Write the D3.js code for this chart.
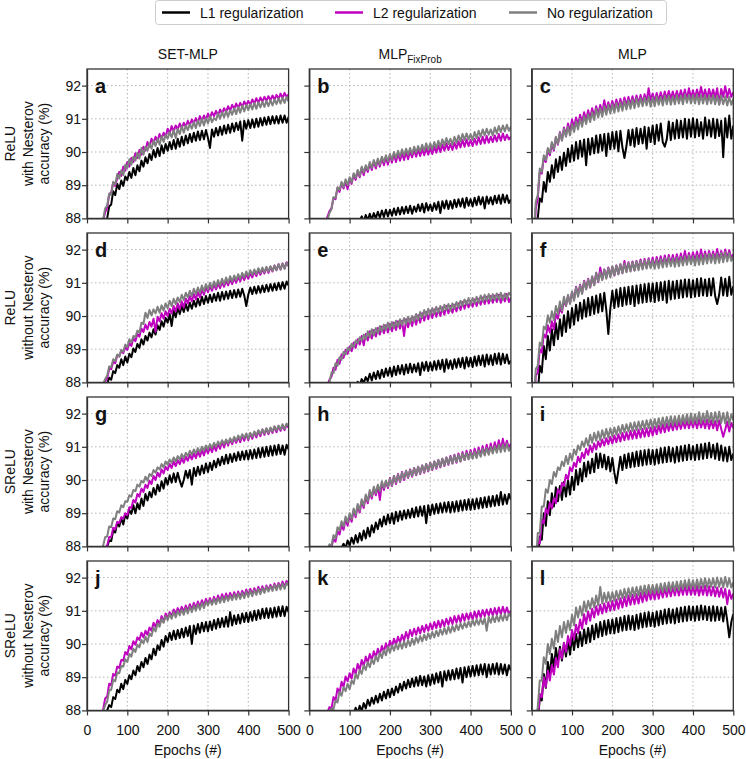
<!DOCTYPE html>
<html><head><meta charset="utf-8">
<script src="https://cdn.jsdelivr.net/npm/d3@7"></script>
<style>
body{margin:0;background:#fff}
svg{display:block}
text{font-family:"Liberation Sans",Arial,Helvetica,sans-serif;fill:#111}
</style></head>
<body><svg id="chart" width="746" height="759"></svg>
<script>
// ---------- data ----------
const epochs = d3.range(0, 501, 5);
const xTicks = [0, 100, 200, 300, 400, 500];
const yTicks = [88, 89, 90, 91, 92];
const seriesNames = ["L1 regularization", "L2 regularization", "No regularization"];
const seriesColors = ["#000000", "#bf00bf", "#7f7f7f"];
const colTitles = ["SET-MLP", "MLP", "MLP"];
const colSubs = ["", "FixProb", ""];
const rowLabels = [
  ["ReLU", "with Nesterov", "accuracy (%)"],
  ["ReLU", "without Nesterov", "accuracy (%)"],
  ["SReLU", "with Nesterov", "accuracy (%)"],
  ["SReLU", "without Nesterov", "accuracy (%)"]
];
const panelLetters = ["a","b","c","d","e","f","g","h","i","j","k","l"];

// a: SET-MLP, ReLU with Nesterov
const aL1 = [74.0,83.0,85.5,86.5,87.0,87.3,87.5,87.68,87.80,87.92,
 88.00,88.36,88.42,88.82,88.70,89.04,88.88,89.14,88.98,89.26,
 89.16,89.40,89.22,89.52,89.30,89.60,89.42,89.74,89.56,89.84,
 89.66,89.94,89.76,90.06,89.84,90.12,89.88,90.20,89.96,90.24,
 90.04,90.30,90.08,90.36,90.10,90.40,90.16,90.46,90.20,90.50,
 90.26,90.54,90.30,90.58,90.34,90.62,90.36,90.64,90.38,90.66,
 90.42,90.12,90.68,90.46,90.72,90.50,90.76,90.52,90.80,90.56,
 90.82,90.58,90.86,90.62,90.88,90.66,90.92,90.34,90.94,90.70,
 90.96,90.72,90.98,90.74,91.00,90.76,91.02,90.80,91.04,90.82,
 91.06,90.84,91.08,90.86,91.08,90.86,91.10,90.88,91.10,90.88,91.06];
const aL2 = [76.0,84.0,85.9,86.8,87.25,87.5,87.68,87.82,87.95,88.18,
 88.32,88.72,88.78,89.08,88.98,89.22,89.40,89.28,89.56,89.44,
 89.70,89.56,89.82,89.70,89.96,89.82,90.06,89.92,90.16,90.04,
 90.30,90.16,90.40,90.26,90.46,90.32,90.54,90.40,90.58,90.46,
 90.70,90.56,90.78,90.62,90.80,90.68,90.86,90.72,90.88,90.76,
 90.94,90.80,90.98,90.86,91.02,90.88,91.08,90.94,91.10,90.96,
 91.16,91.02,91.20,91.08,91.24,91.10,91.28,91.16,91.32,91.20,
 91.38,91.24,91.42,91.30,91.46,91.32,91.48,91.36,91.52,91.40,
 91.54,91.42,91.58,91.46,91.62,91.48,91.64,91.52,91.66,91.54,
 91.68,91.56,91.70,91.58,91.72,91.60,91.76,91.62,91.78,91.66,91.74];
const aNo = [78.0,84.5,86.1,86.9,87.3,87.55,87.7,87.85,87.98,88.30,
 88.38,88.75,88.70,89.10,89.02,89.34,89.20,89.45,89.30,89.62,
 89.52,89.78,89.62,89.86,89.74,89.98,89.80,90.12,89.92,90.16,
 90.04,90.26,90.10,90.34,90.18,90.40,90.22,90.48,90.30,90.52,
 90.40,90.60,90.44,90.66,90.42,90.70,90.54,90.78,90.58,90.80,
 90.66,90.84,90.70,90.90,90.72,90.96,90.78,91.00,90.80,91.02,
 90.86,91.08,90.90,91.02,90.96,91.16,91.00,91.20,91.04,91.24,
 91.06,91.26,91.12,91.32,91.14,91.36,91.18,91.40,91.22,91.42,
 91.26,91.44,91.28,91.48,91.30,91.50,91.34,91.52,91.36,91.54,
 91.38,91.56,91.40,91.58,91.44,91.62,91.46,91.64,91.48,91.66,91.52];
// b: MLP FixProb, ReLU with Nesterov
const bL1 = [50,60,68,74,78,81,83,84.5,85.5,86.2,
 86.7,87.0,87.2,87.35,87.5,87.6,87.68,87.74,87.80,87.84,
 87.86,87.90,87.92,87.94,87.96,87.92,88.06,87.90,88.10,87.94,
 88.14,87.96,88.16,88.00,88.20,88.02,88.24,88.04,88.26,88.06,
 88.26,88.08,88.30,88.10,88.32,88.12,88.34,88.14,88.36,88.16,
 88.38,88.14,88.36,88.20,88.42,88.22,88.44,88.18,88.46,88.24,
 88.42,88.22,88.46,88.26,88.50,88.16,88.52,88.30,88.54,88.28,
 88.52,88.30,88.56,88.34,88.58,88.36,88.60,88.32,88.62,88.38,
 88.58,88.36,88.62,88.40,88.66,88.42,88.64,88.30,88.66,88.44,
 88.64,88.42,88.68,88.46,88.70,88.44,88.72,88.48,88.70,88.46,88.58];
const bL2 = [70,80,83.6,85.3,86.3,86.9,87.3,87.6,87.85,88.05,
 88.22,88.30,88.62,88.58,88.92,88.80,89.06,88.90,89.12,88.88,
 89.20,89.04,89.32,89.16,89.42,89.24,89.52,89.30,89.56,89.40,
 89.64,89.46,89.72,89.50,89.76,89.56,89.82,89.60,89.84,89.62,
 89.90,89.68,89.94,89.70,89.96,89.74,89.98,89.76,90.00,89.78,
 90.02,89.84,90.06,89.86,90.08,89.88,90.10,89.90,90.12,89.92,
 90.12,89.94,90.16,89.98,90.20,90.00,90.22,90.04,90.26,90.06,
 90.24,90.06,90.28,90.10,90.32,90.14,90.36,90.16,90.38,90.18,
 90.36,90.18,90.40,90.22,90.44,90.24,90.46,90.26,90.48,90.28,
 90.46,90.30,90.50,90.32,90.54,90.34,90.56,90.36,90.52,90.38,90.46];
const bNo = [70,80,83.5,85.2,86.2,86.8,87.2,87.5,87.75,87.95,
 88.16,88.28,88.64,88.62,88.94,88.86,89.10,88.94,89.18,89.00,
 89.24,89.08,89.36,89.22,89.46,89.28,89.56,89.38,89.60,89.46,
 89.70,89.52,89.76,89.58,89.80,89.62,89.86,89.70,89.90,89.72,
 89.94,89.76,90.00,89.82,90.04,89.86,90.08,89.90,90.10,89.92,
 90.12,89.94,90.16,89.98,90.18,90.02,90.22,90.04,90.26,90.06,
 90.26,90.08,90.30,90.12,90.34,90.16,90.38,90.20,90.42,90.24,
 90.40,90.22,90.46,90.28,90.50,90.32,90.54,90.36,90.56,90.38,
 90.54,90.36,90.60,90.42,90.64,90.46,90.68,90.50,90.70,90.52,
 90.68,90.50,90.74,90.56,90.78,90.60,90.80,90.62,90.82,90.64,90.76];
// c: MLP, ReLU with Nesterov
const cL1 = [78,86.5,87.5,88.0,88.6,88.5,89.10,88.80,89.40,89.10,
 89.60,89.22,89.78,89.40,89.86,89.46,89.98,89.58,90.10,89.70,
 90.20,89.74,90.30,89.80,90.34,89.86,90.38,89.60,90.40,89.92,
 90.42,89.96,90.50,89.98,90.52,90.04,90.54,89.88,90.56,90.08,
 90.60,90.10,90.62,90.02,90.64,90.14,89.82,90.18,90.66,90.20,
 90.68,90.16,90.72,90.24,90.70,90.26,90.76,90.10,90.74,90.30,
 90.80,90.24,90.82,90.34,90.86,90.30,90.16,90.38,90.92,90.36,
 90.88,90.40,90.96,90.42,90.94,90.44,91.00,90.40,90.98,90.46,
 91.02,90.44,90.98,90.48,90.90,90.40,91.04,90.50,90.96,90.46,
 91.00,90.42,90.98,90.48,90.94,89.84,91.02,90.44,91.10,90.40,90.80];
const cL2 = [79,87.0,88.3,88.6,89.4,89.35,89.82,89.70,90.06,89.90,
 90.26,90.04,90.44,90.22,90.60,90.36,90.74,90.50,90.86,90.62,
 90.98,90.74,91.04,90.82,91.12,90.90,91.20,90.96,91.26,91.02,
 91.32,91.08,91.38,91.14,91.42,91.18,91.56,91.24,91.50,91.28,
 91.54,91.30,91.58,91.34,91.60,91.36,91.64,91.40,91.66,91.42,
 91.68,91.44,91.70,91.46,91.72,91.48,91.74,91.52,91.92,91.54,
 91.76,91.52,91.78,91.54,91.80,91.56,91.82,91.58,91.84,91.60,
 91.82,91.58,91.84,91.60,91.86,91.62,91.88,91.58,91.92,91.62,
 91.86,91.62,91.88,91.64,91.96,91.64,91.88,91.60,91.90,91.64,
 91.88,91.62,91.92,91.44,91.90,91.66,91.98,91.64,91.90,91.66,91.80];
const cNo = [80,87.4,88.5,88.7,89.5,89.40,89.90,89.76,90.12,89.96,
 90.30,90.08,90.46,90.24,90.58,90.34,90.70,90.46,90.76,90.50,
 90.84,90.60,90.92,90.68,91.00,90.76,91.08,90.84,91.14,90.90,
 91.20,90.96,91.30,91.04,91.32,91.06,91.38,91.12,91.42,91.16,
 91.44,91.18,91.48,91.22,91.50,91.24,91.54,91.28,91.56,91.30,
 91.58,91.32,91.62,91.36,91.62,91.38,91.64,91.40,91.66,91.36,
 91.64,91.38,91.68,91.42,91.66,91.40,91.70,91.44,91.70,91.42,
 91.68,91.44,91.72,91.46,91.70,91.44,91.74,91.48,91.72,91.46,
 91.72,91.46,91.74,91.44,91.72,91.46,91.72,91.44,91.70,91.46,
 91.72,91.44,91.70,91.42,91.70,91.44,91.68,91.40,91.66,91.42,91.60];
// d: SET-MLP, ReLU without Nesterov
const dL1 = [74,83,85.3,86.3,86.9,87.2,87.45,87.62,87.76,87.88,
 87.96,88.14,88.08,88.34,88.28,88.52,88.44,88.70,88.52,88.78,
 88.60,88.86,88.76,89.02,88.92,89.16,89.04,89.30,89.14,89.40,
 89.26,89.50,89.36,89.60,89.44,89.72,89.58,89.84,89.68,89.94,
 89.80,90.06,89.70,90.16,89.96,90.24,90.06,90.30,90.12,90.36,
 90.16,90.40,90.22,90.46,90.28,90.52,90.32,90.58,90.36,90.60,
 90.40,90.64,90.42,90.66,90.46,90.70,90.46,90.72,90.50,90.74,
 90.52,90.76,90.54,90.78,90.56,90.80,90.58,90.82,90.62,90.30,
 90.64,90.86,90.66,90.88,90.68,90.90,90.70,90.92,90.72,90.94,
 90.74,90.96,90.76,90.98,90.78,91.00,90.80,91.02,90.82,91.04,90.92];
const dL2 = [76,84.0,85.8,86.75,87.2,87.48,87.66,87.8,87.93,88.04,
 88.12,88.40,88.40,88.62,88.58,88.82,88.78,88.96,88.88,89.06,
 88.98,89.18,89.10,89.34,89.24,89.46,89.38,89.62,89.52,89.74,
 89.60,89.82,89.68,89.92,89.52,89.98,89.84,90.08,89.92,90.14,
 90.00,90.22,90.08,90.30,90.14,90.38,90.20,90.44,90.26,90.52,
 90.38,90.60,90.44,90.66,90.50,90.72,90.56,90.80,90.64,90.86,
 90.72,90.90,90.76,90.94,90.80,90.98,90.84,91.02,90.88,91.06,
 90.92,91.10,90.96,91.14,91.00,91.18,91.04,91.22,91.08,91.26,
 91.12,91.30,91.16,91.34,91.20,91.38,91.24,91.42,91.28,91.46,
 91.30,91.48,91.34,91.52,91.38,91.56,91.40,91.58,91.44,91.62,91.50];
const dNo = [77,84.2,85.9,86.8,87.25,87.5,87.68,87.82,87.95,88.10,
 88.20,88.48,88.46,88.70,88.64,88.84,88.78,88.98,88.92,89.14,
 89.06,89.30,89.20,89.40,89.36,89.56,89.50,89.80,89.76,90.10,
 89.94,90.18,90.02,90.20,90.08,90.28,90.10,90.32,90.16,90.38,
 90.24,90.46,90.30,90.52,90.36,90.56,90.42,90.64,90.48,90.70,
 90.56,90.76,90.60,90.82,90.66,90.86,90.70,90.92,90.74,90.96,
 90.80,91.00,90.84,91.04,90.88,91.08,90.92,91.12,90.96,91.16,
 91.00,91.20,91.04,91.22,91.08,91.26,91.12,91.30,91.16,91.34,
 91.20,91.38,91.24,91.40,91.26,91.44,91.30,91.46,91.32,91.48,
 91.34,91.50,91.36,91.52,91.38,91.56,91.40,91.58,91.42,91.60,91.52];
// e: MLP FixProb, ReLU without Nesterov
const eL1 = [50,60,68,74,78,81,83,84.5,85.5,86.2,
 86.7,87.0,87.2,87.35,87.48,87.58,87.66,87.72,87.78,87.84,
 87.88,87.86,87.96,87.90,88.02,87.92,88.10,87.98,88.16,88.04,
 88.26,88.06,88.30,88.10,88.34,88.12,88.38,88.16,88.42,88.20,
 88.44,88.18,88.48,88.22,88.50,88.26,88.52,88.24,88.54,88.28,
 88.56,88.30,88.54,88.32,88.58,88.22,88.60,88.36,88.62,88.34,
 88.60,88.36,88.64,88.38,88.66,88.40,88.68,88.32,88.70,88.42,
 88.66,88.40,88.70,88.44,88.72,88.46,88.74,88.42,88.76,88.48,
 88.74,88.46,88.78,88.50,88.80,88.52,88.82,88.48,88.84,88.54,
 88.82,88.52,88.86,88.56,88.88,88.54,88.86,88.58,88.84,88.56,88.66];
const eL2 = [70,80,83.4,85.1,86.1,86.7,87.15,87.46,87.72,87.92,
 88.08,88.18,88.44,88.38,88.68,88.56,88.84,88.74,88.98,88.86,
 89.08,88.94,89.20,89.04,89.30,89.14,89.40,89.12,89.46,89.26,
 89.54,89.32,89.58,89.38,89.64,89.44,89.68,89.48,89.72,89.50,
 89.76,89.54,89.80,89.58,89.84,89.62,89.86,89.40,89.90,89.66,
 89.92,89.70,89.96,89.74,90.02,89.80,90.08,89.86,90.12,89.90,
 90.16,89.94,90.20,89.98,90.22,90.00,90.26,90.04,90.30,90.08,
 90.30,90.10,90.34,90.14,90.38,90.18,90.42,90.22,90.44,90.26,
 90.46,90.28,90.50,90.30,90.52,90.34,90.56,90.36,90.58,90.38,
 90.60,90.40,90.62,90.42,90.64,90.40,90.62,90.44,90.66,90.42,90.56];
const eNo = [70,80,83.5,85.2,86.2,86.8,87.2,87.5,87.74,87.95,
 88.00,88.30,88.28,88.58,88.50,88.76,88.68,88.92,88.84,89.04,
 88.96,89.16,89.06,89.26,89.18,89.36,89.26,89.44,89.30,89.54,
 89.36,89.60,89.42,89.64,89.48,89.70,89.54,89.74,89.58,89.80,
 89.60,89.82,89.64,89.86,89.68,89.90,89.72,89.94,89.76,89.98,
 89.78,90.00,89.84,90.06,89.88,90.12,89.94,90.18,90.00,90.22,
 90.02,90.24,90.06,90.28,90.10,90.30,90.14,90.34,90.18,90.36,
 90.16,90.38,90.22,90.42,90.26,90.46,90.30,90.50,90.34,90.54,
 90.34,90.54,90.38,90.58,90.40,90.62,90.44,90.64,90.46,90.66,
 90.46,90.66,90.48,90.68,90.50,90.70,90.48,90.68,90.52,90.70,90.62];
// f: MLP, ReLU without Nesterov
const fL1 = [78,85.8,87.0,87.6,88.5,88.3,89.10,88.70,89.40,88.96,
 89.60,89.12,89.78,89.30,89.90,89.40,90.02,89.52,90.14,89.64,
 90.24,89.74,90.34,89.86,90.40,89.92,90.48,89.98,90.54,90.02,
 90.58,90.06,90.62,90.10,90.66,90.14,90.70,90.18,89.46,90.22,
 90.76,90.24,90.80,90.28,90.84,90.30,90.86,90.34,90.88,90.36,
 90.90,90.30,90.92,90.38,90.94,90.40,90.96,90.42,90.98,90.44,
 90.98,90.42,91.00,90.46,91.02,90.48,91.04,90.40,91.06,90.50,
 91.04,90.52,91.06,90.54,91.08,90.56,91.10,90.58,91.10,90.56,
 91.08,90.58,91.12,90.60,91.14,90.62,91.10,90.60,91.12,90.62,
 91.14,90.60,90.36,90.64,91.16,90.62,91.12,90.60,91.18,90.64,90.90];
const fL2 = [79,86.8,88.2,88.3,89.0,88.9,89.45,89.35,89.72,89.50,
 89.84,89.60,90.06,89.92,90.26,90.10,90.48,90.30,90.60,90.40,
 90.72,90.50,90.88,90.64,90.94,90.70,91.06,90.82,91.12,90.86,
 91.18,90.94,91.30,91.02,91.46,91.10,91.40,91.16,91.46,91.20,
 91.48,91.22,91.52,91.26,91.56,91.30,91.66,91.34,91.62,91.36,
 91.64,91.38,91.66,91.42,91.70,91.44,91.72,91.46,91.74,91.48,
 91.76,91.48,91.78,91.52,91.80,91.54,91.82,91.56,91.84,91.58,
 91.84,91.58,91.86,91.60,91.88,91.62,91.96,91.62,91.90,91.64,
 91.92,91.66,91.94,91.66,92.00,91.68,91.94,91.68,91.96,91.70,
 91.94,91.70,92.02,91.70,91.96,91.72,92.00,91.74,91.98,91.74,91.86];
const fNo = [80,87.2,88.4,88.5,89.2,89.1,89.68,89.60,90.02,89.80,
 90.14,89.88,90.30,90.06,90.44,90.16,90.58,90.30,90.64,90.36,
 90.74,90.46,90.86,90.58,90.92,90.66,91.04,90.80,91.10,90.86,
 91.20,90.92,91.30,91.04,91.32,91.08,91.40,91.12,91.44,91.16,
 91.50,91.22,91.52,91.26,91.56,91.28,91.58,91.32,91.60,91.34,
 91.62,91.36,91.64,91.38,91.66,91.40,91.68,91.42,91.70,91.44,
 91.68,91.42,91.70,91.44,91.72,91.46,91.74,91.48,91.76,91.50,
 91.74,91.48,91.76,91.50,91.78,91.52,91.80,91.54,91.82,91.56,
 91.80,91.52,91.82,91.54,91.84,91.56,91.86,91.58,91.88,91.60,
 91.86,91.58,91.88,91.60,91.90,91.62,91.92,91.64,91.90,91.66,91.80];
// g: SET-MLP, SReLU with Nesterov
const gL1 = [72,82,85,86.2,86.9,87.3,87.55,87.72,87.84,87.92,
 87.98,88.18,88.16,88.48,88.42,88.70,88.60,88.84,88.66,88.96,
 88.84,89.10,88.98,89.24,89.00,89.30,89.12,89.44,89.22,89.58,
 89.38,89.64,89.48,89.76,89.56,89.86,89.66,89.96,89.74,90.06,
 89.86,90.14,89.92,90.20,89.94,90.22,89.98,89.80,90.00,90.28,
 90.06,90.30,89.86,90.36,90.12,90.40,90.16,90.44,90.20,90.50,
 90.24,90.52,90.30,90.58,90.38,90.64,90.44,90.70,90.48,90.76,
 90.50,90.78,90.54,90.80,90.58,90.84,90.60,90.86,90.62,90.88,
 90.62,90.90,90.64,90.92,90.66,90.96,90.68,90.98,90.70,91.00,
 90.72,91.02,90.74,91.04,90.76,91.06,90.78,91.04,90.76,91.06,90.92];
const gL2 = [74,83,85.4,86.5,87.1,87.45,87.65,87.8,87.9,87.98,
 88.02,88.28,88.28,88.56,88.52,88.74,88.70,88.88,88.84,89.00,
 88.94,89.18,89.16,89.40,89.32,89.58,89.50,89.74,89.64,89.86,
 89.76,89.98,89.88,90.12,90.00,90.22,90.10,90.32,90.20,90.40,
 90.30,90.48,90.36,90.56,90.42,90.60,90.48,90.66,90.52,90.70,
 90.58,90.76,90.62,90.80,90.66,90.86,90.70,90.90,90.74,90.96,
 90.80,91.00,90.84,91.04,90.88,91.10,90.94,91.16,90.98,91.20,
 91.04,91.22,91.08,91.26,91.12,91.30,91.14,91.34,91.18,91.38,
 91.20,91.40,91.24,91.44,91.28,91.48,91.32,91.52,91.36,91.54,
 91.38,91.56,91.42,91.60,91.44,91.62,91.48,91.64,91.50,91.66,91.58];
const gNo = [76,84,85.8,86.8,87.3,87.6,87.8,87.92,88.02,88.28,
 88.30,88.60,88.58,88.84,88.82,89.06,89.02,89.24,89.18,89.36,
 89.34,89.54,89.50,89.70,89.66,89.86,89.80,89.98,89.92,90.10,
 89.98,90.18,90.12,90.30,90.22,90.38,90.32,90.48,90.38,90.56,
 90.46,90.62,90.52,90.68,90.56,90.72,90.62,90.78,90.66,90.82,
 90.72,90.88,90.76,90.92,90.80,90.96,90.84,91.00,90.88,91.04,
 90.92,91.08,90.96,91.12,91.00,91.16,91.04,91.20,91.08,91.22,
 91.10,91.26,91.14,91.30,91.18,91.34,91.22,91.38,91.26,91.40,
 91.24,91.42,91.30,91.46,91.34,91.50,91.38,91.52,91.40,91.56,
 91.42,91.58,91.46,91.62,91.50,91.64,91.52,91.68,91.54,91.70,91.62];
// h: MLP FixProb, SReLU with Nesterov
const hL1 = [55,65,72,77,80.5,83,84.6,85.7,86.4,86.9,
 87.2,87.45,87.62,87.76,87.86,87.94,87.96,88.08,87.94,88.18,
 88.02,88.26,88.08,88.34,88.12,88.40,88.18,88.48,88.24,88.56,
 88.30,88.64,88.42,88.72,88.52,88.82,88.60,88.90,88.66,88.96,
 88.70,89.00,88.68,89.04,88.76,89.06,88.80,89.08,88.84,89.10,
 88.86,89.14,88.88,89.18,88.90,89.20,88.92,89.22,88.70,89.24,
 88.94,89.26,88.98,89.28,89.00,89.30,89.02,89.32,89.04,89.34,
 89.02,89.34,89.04,89.36,89.06,89.38,89.08,89.40,89.10,89.42,
 89.10,89.42,89.12,89.44,89.14,89.46,89.16,89.48,89.18,89.50,
 89.20,89.52,89.22,89.54,89.24,89.64,89.26,89.56,89.28,89.58,89.40];
const hL2 = [66,78,82.5,84.6,85.8,86.6,87.1,87.45,87.70,87.86,
 87.96,87.98,88.22,88.14,88.46,88.36,88.66,88.50,88.82,88.62,
 88.94,88.74,89.08,88.88,89.22,89.02,89.36,89.16,89.50,89.30,
 89.64,89.44,89.74,89.54,89.82,89.40,89.92,89.70,89.96,89.76,
 90.06,89.82,90.12,89.88,90.18,89.94,90.24,90.00,90.28,90.06,
 90.32,90.10,90.36,90.14,90.40,90.18,90.44,90.22,90.48,90.26,
 90.52,90.30,90.56,90.34,90.60,90.38,90.64,90.42,90.68,90.46,
 90.72,90.50,90.76,90.52,90.80,90.56,90.84,90.60,90.88,90.64,
 90.90,90.66,90.94,90.70,90.98,90.74,91.02,90.76,91.06,90.80,
 91.10,90.84,91.14,90.88,91.20,90.90,91.24,90.94,91.18,90.96,91.10];
const hNo = [68,79,83,85,86.1,86.8,87.25,87.55,87.78,87.92,
 88.06,88.02,88.34,88.24,88.58,88.48,88.76,88.60,88.90,88.72,
 89.00,88.82,89.14,88.94,89.28,89.08,89.42,89.22,89.56,89.36,
 89.70,89.50,89.80,89.60,89.86,89.66,89.96,89.76,89.98,89.80,
 90.04,89.84,90.12,89.92,90.16,89.96,90.22,90.04,90.28,90.08,
 90.30,90.12,90.36,90.16,90.40,90.20,90.44,90.24,90.48,90.28,
 90.52,90.32,90.56,90.36,90.60,90.40,90.64,90.44,90.68,90.48,
 90.70,90.50,90.74,90.54,90.76,90.56,90.80,90.60,90.82,90.62,
 90.84,90.64,90.86,90.66,90.90,90.70,90.94,90.74,90.96,90.76,
 91.00,90.80,91.02,90.82,91.06,90.84,91.08,90.86,91.10,90.88,91.00];
// i: MLP, SReLU with Nesterov
const iL1 = [76,85.3,86.6,87.4,88.3,88.2,89.00,88.62,89.36,88.94,
 89.60,89.20,89.78,89.36,89.82,89.40,89.94,89.50,90.00,89.56,
 90.10,89.70,90.30,89.86,90.34,89.96,90.52,90.10,90.56,90.20,
 90.64,90.24,90.80,90.36,90.80,90.38,90.76,90.32,90.70,90.26,
 90.66,90.22,89.90,90.30,90.70,90.30,90.76,90.36,90.80,90.38,
 90.82,90.40,90.86,90.42,90.88,90.44,90.90,90.46,90.92,90.48,
 90.90,90.46,90.92,90.50,90.96,90.52,90.98,90.54,91.00,90.56,
 90.96,90.52,91.00,90.56,91.02,90.58,91.04,90.60,91.06,90.62,
 91.02,90.60,91.06,90.62,91.08,90.64,91.10,90.66,91.12,90.68,
 91.06,90.64,91.10,90.60,91.04,90.58,90.98,90.56,91.00,90.60,90.80];
const iL2 = [77,85.8,87.0,88.1,88.1,88.8,88.70,89.14,88.98,89.32,
 89.14,89.46,89.30,89.72,89.58,89.92,89.82,90.16,90.02,90.38,
 90.26,90.52,90.40,90.70,90.54,90.82,90.66,90.94,90.76,91.04,
 90.84,91.10,90.92,91.16,91.00,91.22,91.04,91.26,91.08,91.30,
 91.10,91.34,91.14,91.38,91.16,91.42,91.20,91.44,91.22,91.48,
 91.24,91.50,91.26,91.52,91.28,91.54,91.30,91.56,91.32,91.58,
 91.34,91.60,91.38,91.64,91.42,91.68,91.44,91.70,91.48,91.72,
 91.50,91.74,91.52,91.76,91.54,91.78,91.56,91.80,91.56,91.80,
 91.58,91.80,91.56,91.82,91.58,91.80,91.56,91.82,91.54,91.80,
 91.56,91.78,91.50,91.80,91.54,91.30,91.52,91.76,91.46,91.72,91.56];
const iNo = [78,86.6,87.4,88.4,88.4,89.2,89.20,89.72,89.62,90.00,
 89.88,90.24,90.10,90.38,90.30,90.56,90.42,90.72,90.48,90.80,
 90.60,90.92,90.76,91.04,90.90,91.16,91.00,91.26,91.04,91.36,
 91.12,91.42,91.18,91.46,91.20,91.50,91.26,91.54,91.28,91.56,
 91.32,91.58,91.36,91.62,91.40,91.66,91.44,91.68,91.46,91.72,
 91.48,91.74,91.50,91.76,91.52,91.78,91.54,91.80,91.56,91.82,
 91.56,91.84,91.58,91.86,91.60,91.88,91.62,91.90,91.64,91.92,
 91.64,91.92,91.66,91.94,91.68,91.96,91.70,91.98,91.70,92.00,
 91.70,91.98,91.72,92.04,91.72,92.00,91.74,92.08,91.74,92.02,
 91.72,92.04,91.74,92.06,91.72,92.02,91.70,92.04,91.68,91.98,91.80];
// j: SET-MLP, SReLU without Nesterov
const jL1 = [73,82.5,85,86.2,86.9,87.3,87.55,87.72,87.84,87.94,
 88.00,88.16,88.10,88.40,88.34,88.62,88.54,88.80,88.64,88.92,
 88.80,89.06,88.94,89.20,89.06,89.34,89.18,89.46,89.30,89.58,
 89.40,89.68,89.54,89.86,89.66,89.96,89.82,90.12,89.92,90.24,
 90.06,90.34,90.12,90.40,90.14,90.42,90.18,90.46,90.20,90.50,
 90.24,90.54,90.00,90.56,90.30,90.60,90.34,90.64,90.38,90.66,
 90.38,90.68,90.42,90.72,90.46,90.76,90.50,90.78,90.52,90.82,
 90.52,90.96,90.56,90.86,90.60,90.88,90.62,90.92,90.66,90.94,
 90.66,90.96,90.70,91.00,90.72,91.02,90.76,91.06,90.78,91.08,
 90.78,91.08,90.80,91.10,90.82,91.12,90.84,91.14,90.84,91.12,90.96];
const jL2 = [77,84.5,86.2,87.0,87.4,87.65,87.82,87.92,88.02,88.36,
 88.42,88.80,88.76,89.10,89.04,89.32,89.28,89.52,89.50,89.76,
 89.68,89.94,89.84,90.08,89.98,90.20,90.12,90.34,90.20,90.40,
 90.28,90.50,90.40,90.64,90.52,90.72,90.60,90.84,90.66,90.92,
 90.76,90.96,90.84,91.04,90.90,91.08,90.96,91.12,90.98,91.16,
 91.00,91.20,91.04,91.24,91.08,91.28,91.12,91.32,91.16,91.36,
 91.20,91.38,91.22,91.42,91.26,91.46,91.30,91.50,91.34,91.52,
 91.36,91.54,91.38,91.56,91.40,91.58,91.42,91.60,91.46,91.64,
 91.48,91.66,91.50,91.68,91.52,91.72,91.56,91.74,91.58,91.76,
 91.62,91.78,91.64,91.82,91.66,91.84,91.70,91.88,91.72,91.90,91.80];
const jNo = [76,84,85.9,86.8,87.3,87.58,87.76,87.88,87.98,88.16,
 88.26,88.60,88.62,88.92,88.88,89.14,89.12,89.34,89.32,89.54,
 89.46,89.70,89.62,89.86,89.76,89.98,89.90,90.12,90.02,90.22,
 90.06,90.32,90.24,90.50,90.38,90.62,90.52,90.76,90.64,90.84,
 90.72,90.90,90.76,90.96,90.80,91.00,90.86,91.04,90.88,91.08,
 90.92,91.12,90.96,91.16,91.00,91.20,91.04,91.24,91.08,91.28,
 91.16,91.32,91.18,91.36,91.20,91.38,91.24,91.42,91.26,91.44,
 91.30,91.46,91.32,91.50,91.34,91.52,91.36,91.54,91.38,91.58,
 91.42,91.60,91.44,91.62,91.48,91.66,91.50,91.68,91.54,91.72,
 91.58,91.74,91.60,91.78,91.62,91.80,91.64,91.82,91.66,91.84,91.76];
// k: MLP FixProb, SReLU without Nesterov
const kL1 = [50,60,68,74,78,81,83,84.5,85.5,86.2,
 86.7,87.0,87.2,87.35,87.48,87.58,87.66,87.74,87.80,87.86,
 87.90,87.94,87.90,88.08,87.92,88.14,87.98,88.22,88.06,88.32,
 88.14,88.38,88.20,88.44,88.24,88.50,88.30,88.56,88.36,88.62,
 88.40,88.66,88.46,88.72,88.54,88.80,88.60,88.86,88.66,88.92,
 88.70,88.96,88.72,89.00,88.74,89.04,88.76,89.02,88.72,89.06,
 88.76,89.08,88.80,89.12,88.84,89.16,88.72,89.18,88.90,89.20,
 88.92,89.22,88.94,89.26,88.96,89.28,88.84,89.30,89.00,89.32,
 89.02,89.34,89.04,89.36,89.06,89.38,89.08,89.40,89.00,89.38,
 89.08,89.40,89.10,89.42,89.08,89.40,89.10,89.38,89.06,89.36,89.20];
const kL2 = [68,79,83,85,86.1,86.8,87.25,87.55,87.78,87.94,
 88.10,88.06,88.40,88.30,88.66,88.52,88.86,88.72,89.02,88.88,
 89.12,88.96,89.26,89.10,89.40,89.22,89.52,89.34,89.62,89.44,
 89.70,89.52,89.78,89.60,89.86,89.68,89.94,89.76,90.02,89.84,
 90.10,89.92,90.16,89.98,90.22,90.04,90.28,90.10,90.36,90.16,
 90.42,90.24,90.46,90.28,90.50,90.32,90.54,90.36,90.58,90.40,
 90.62,90.44,90.66,90.48,90.70,90.50,90.72,90.54,90.76,90.58,
 90.80,90.60,90.84,90.64,90.86,90.66,90.90,90.70,90.92,90.74,
 90.94,90.74,90.98,90.78,91.00,90.80,91.02,90.84,91.04,90.86,
 91.06,90.86,91.08,90.88,91.10,90.90,91.12,90.92,91.10,90.90,91.00];
const kNo = [66,78,82.5,84.6,85.8,86.6,87.1,87.45,87.70,87.86,
 87.96,88.06,88.04,88.30,88.24,88.56,88.44,88.70,88.58,88.80,
 88.64,88.90,88.80,89.10,88.96,89.22,89.10,89.36,89.22,89.46,
 89.30,89.54,89.40,89.64,89.48,89.74,89.58,89.82,89.66,89.92,
 89.74,89.96,89.80,90.00,89.84,90.04,89.86,90.08,89.90,90.12,
 89.94,90.16,89.98,90.20,90.04,90.24,90.08,90.28,90.12,90.32,
 90.16,90.36,90.20,90.40,90.24,90.44,90.28,90.48,90.30,90.52,
 90.34,90.54,90.38,90.58,90.42,90.62,90.46,90.64,90.50,90.68,
 90.52,90.72,90.56,90.74,90.58,90.76,90.60,90.78,90.40,90.82,
 90.64,90.84,90.66,90.86,90.68,90.88,90.70,90.90,90.72,90.92,90.82];
// l: MLP, SReLU without Nesterov
const lL1 = [76,85.3,86.8,87.5,88.4,88.3,89.10,88.68,89.46,89.04,
 89.70,89.28,89.88,89.46,89.92,89.50,90.02,89.62,90.10,89.68,
 90.22,89.82,90.30,89.90,90.36,89.94,90.44,90.02,90.48,90.06,
 90.56,90.14,90.60,90.20,90.66,90.24,90.70,90.28,90.72,90.32,
 90.74,90.32,90.78,90.36,90.80,90.40,90.84,90.42,90.86,90.44,
 90.84,90.42,90.88,90.46,90.92,90.50,90.94,90.52,90.96,90.54,
 90.94,90.52,90.98,90.56,91.00,90.60,91.04,90.62,91.06,90.64,
 91.04,90.62,91.08,90.66,91.10,90.68,91.12,90.70,91.14,90.72,
 91.12,90.70,91.14,90.72,91.16,90.74,91.14,90.72,91.12,90.70,
 91.14,90.70,91.12,90.72,91.10,90.68,91.12,90.70,90.20,90.66,90.90];
const lL2 = [77,85.6,87.2,87.6,88.5,88.4,89.00,88.70,89.20,88.90,
 89.36,89.08,89.58,89.30,89.84,89.56,90.04,89.76,90.24,89.96,
 90.42,90.14,90.58,90.32,90.74,90.46,90.90,90.60,90.98,90.70,
 91.06,90.80,91.14,90.88,91.18,90.92,91.22,90.96,91.26,91.00,
 91.30,91.02,91.34,91.06,91.38,91.10,91.42,91.14,91.46,91.18,
 91.48,91.20,91.50,91.22,91.54,91.26,91.56,91.30,91.60,91.34,
 91.62,91.34,91.64,91.36,91.66,91.40,91.68,91.42,91.70,91.44,
 91.72,91.46,91.74,91.46,91.74,91.48,91.76,91.48,91.76,91.48,
 91.74,91.48,91.76,91.46,91.74,91.48,91.76,91.46,91.74,91.46,
 91.72,91.44,91.70,91.42,91.68,91.40,91.66,91.20,91.62,91.36,91.52];
const lNo = [78,86.2,87.7,88.1,88.9,88.9,89.60,89.40,90.00,89.70,
 90.16,89.86,90.40,90.06,90.54,90.20,90.66,90.34,90.70,90.42,
 90.88,90.56,91.10,90.80,91.14,90.86,91.28,90.98,91.30,91.06,
 91.38,91.10,91.46,91.16,91.72,91.22,91.54,91.26,91.56,91.28,
 91.56,91.30,91.60,91.34,91.62,91.38,91.66,91.40,91.68,91.42,
 91.70,91.44,91.72,91.46,91.74,91.48,91.76,91.50,91.78,91.52,
 91.78,91.52,91.80,91.54,91.82,91.56,91.84,91.58,91.86,91.60,
 91.86,91.60,91.88,91.62,91.90,91.64,91.92,91.66,91.94,91.66,
 91.92,91.66,91.94,91.68,91.96,91.70,91.98,91.70,91.96,91.72,
 91.98,91.70,92.00,91.72,91.98,91.70,92.02,91.72,91.98,91.70,91.86];

const panelSeries = [
  [aL1, aL2, aNo], [bL1, bL2, bNo], [cL1, cL2, cNo],
  [dL1, dL2, dNo], [eL1, eL2, eNo], [fL1, fL2, fNo],
  [gL1, gL2, gNo], [hL1, hL2, hNo], [iL1, iL2, iNo],
  [jL1, jL2, jNo], [kL1, kL2, kNo], [lL1, lL2, lNo]
];

// ---------- layout ----------
const colX = [87, 309.3, 531.7];
const rowY = [69, 233, 397, 561];
const pw = 201.6, ph = 149.4;
const FONT = 14;

const svg = d3.select("#chart");
const x = d3.scaleLinear().domain([0, 500]).range([0, pw]);
const y = d3.scaleLinear().domain([88, 92.5]).range([ph, 0]);
const line = d3.line().x((d, i) => x(epochs[i])).y(d => y(d));

// legend
const leg = svg.append("g");
leg.append("rect").attr("x", 155.5).attr("y", 0.5).attr("width", 511).attr("height", 24)
  .attr("rx", 3).attr("fill", "#fff").attr("stroke", "#cccccc").attr("stroke-width", 1);
const legX = [162, 335, 509];
seriesNames.forEach((name, i) => {
  leg.append("line").attr("x1", legX[i]).attr("x2", legX[i] + 28).attr("y1", 12.5).attr("y2", 12.5)
    .attr("stroke", seriesColors[i]).attr("stroke-width", 2.5);
  leg.append("text").attr("x", legX[i] + 38).attr("y", 17.5).attr("font-size", FONT).text(name);
});

// column titles
colTitles.forEach((t, c) => {
  const tx = svg.append("text").attr("x", colX[c] + pw / 2).attr("y", 59)
    .attr("text-anchor", "middle").attr("font-size", FONT);
  tx.append("tspan").text(t);
  if (colSubs[c]) tx.append("tspan").attr("font-size", 10).attr("dy", 4).text(colSubs[c]);
});

// row labels
rowLabels.forEach((lines, r) => {
  const cy = rowY[r] + ph / 2;
  const lx = [15, 32.5, 48.5];
  lines.forEach((t, k) => {
    svg.append("text").attr("transform", `translate(${lx[k]},${cy}) rotate(-90)`)
      .attr("text-anchor", "middle").attr("font-size", FONT).text(t);
  });
});

// panels
panelSeries.forEach((series, p) => {
  const r = Math.floor(p / 3), c = p % 3;
  const g = svg.append("g").attr("transform", `translate(${colX[c]},${rowY[r]})`);
  const cid = "clip" + p;
  g.append("clipPath").attr("id", cid).append("rect").attr("width", pw).attr("height", ph);

  // grid
  g.append("g").selectAll("line").data(xTicks.slice(1, -1)).join("line")
    .attr("x1", d => x(d)).attr("x2", d => x(d)).attr("y1", 0).attr("y2", ph)
    .attr("stroke", "#b5b5b5").attr("stroke-width", 1).attr("stroke-dasharray", "1.5,2.5");
  g.append("g").selectAll("line").data(yTicks.slice(1)).join("line")
    .attr("x1", 0).attr("x2", pw).attr("y1", d => y(d)).attr("y2", d => y(d))
    .attr("stroke", "#b5b5b5").attr("stroke-width", 1).attr("stroke-dasharray", "1.5,2.5");

  // series
  const lg = g.append("g").attr("clip-path", `url(#${cid})`);
  series.forEach((vals, i) => {
    lg.append("path").datum(vals).attr("d", line).attr("fill", "none")
      .attr("stroke", seriesColors[i]).attr("stroke-width", 2).attr("stroke-linejoin", "round");
  });

  // border
  g.append("rect").attr("width", pw).attr("height", ph).attr("fill", "none")
    .attr("stroke", "#333").attr("stroke-width", 1.3);

  // axes
  const ya = d3.axisLeft(y).tickValues(yTicks).tickSize(5).tickSizeOuter(0).tickPadding(1)
    .tickFormat(c === 0 ? d3.format("d") : () => "");
  const yg = g.append("g").call(ya);
  const xa = d3.axisBottom(x).tickValues(xTicks).tickSize(5).tickSizeOuter(0)
    .tickFormat(r === 3 ? d3.format("d") : () => "");
  const xg = g.append("g").attr("transform", `translate(0,${ph})`).call(xa);
  [yg, xg].forEach(ax => {
    ax.select(".domain").attr("stroke", "#333").attr("stroke-width", 1.3);
    ax.selectAll(".tick line").attr("stroke", "#333").attr("stroke-width", 1.2);
    ax.selectAll(".tick text").attr("font-size", FONT).attr("fill", "#111")
      .attr("font-family", "'Liberation Sans',Arial,Helvetica,sans-serif");
  });
  xg.selectAll(".tick text").attr("y", 15);

  // panel letter
  g.append("text").attr("x", 8).attr("y", 24).attr("font-size", 20).attr("font-weight", "bold")
    .text(panelLetters[p]);

  if (r === 3) {
    g.append("text").attr("x", pw / 2).attr("y", 755 - rowY[r]).attr("text-anchor", "middle")
      .attr("font-size", FONT).text("Epochs (#)");
  }
});
</script></body></html>
